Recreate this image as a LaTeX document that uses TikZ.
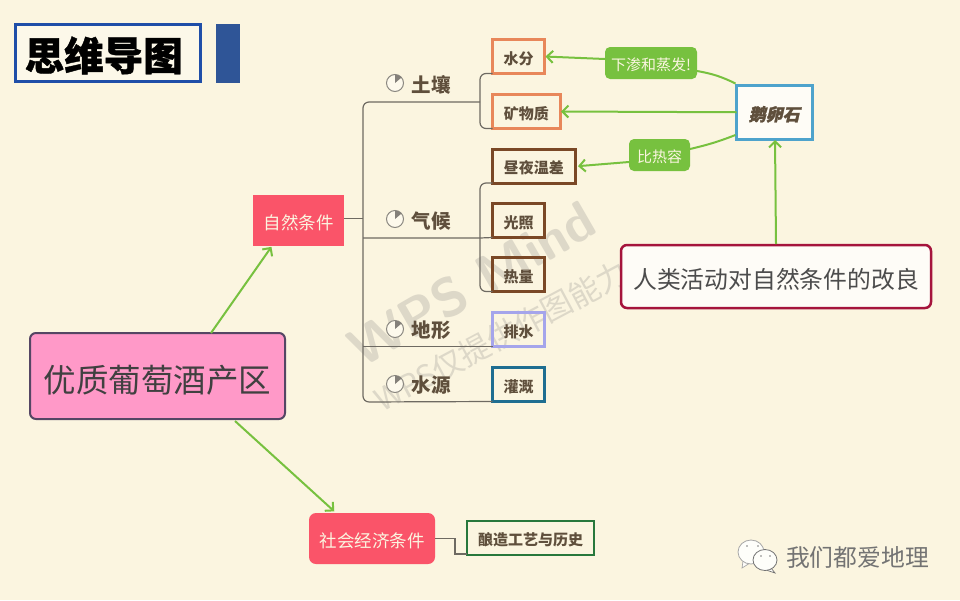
\documentclass[tikz,border=0pt]{standalone}
\usepackage{fontspec}
\usetikzlibrary{arrows.meta,calc,shapes.geometric}
\setmainfont{Noto Sans CJK SC}
\newfontfamily\cjkslant[FakeSlant=0.22,FakeBold=1.5]{Noto Sans CJK SC}
\newfontfamily\cjkheavy[FakeBold=1]{Noto Sans CJK SC}
\definecolor{bgc}{HTML}{FBF5E0}
\definecolor{ink}{HTML}{5F4F3C}
\definecolor{linec}{HTML}{6E6A62}
\definecolor{arrowc}{HTML}{77C13F}
\definecolor{redn}{HTML}{FA5469}
\definecolor{titleb}{HTML}{1F4EA8}
\definecolor{barb}{HTML}{2F5597}
\definecolor{wm}{HTML}{DDD8C8}
\tikzset{
  boxn/.style={rectangle,inner sep=0pt,outer sep=0pt,align=center},
  leaf/.style={boxn,line width=3pt,text=ink,font=\fontsize{15}{17}\selectfont\bfseries},
  cat/.style={boxn,text=ink,font=\fontsize{19.5}{22}\selectfont\bfseries},
  tree/.style={draw=linec,line width=1.2pt,rounded corners=6pt},
  link/.style={draw=arrowc,line width=2pt},
  arr/.style={link,-{Straight Barb[length=6pt,width=12pt,line width=2pt]},shorten >=1pt},
  greenl/.style={boxn,fill=arrowc,rounded corners=5pt,text=bgc,font=\fontsize{15}{18}\selectfont},
  clock/.style={circle,draw=linec!80,line width=1pt,fill=bgc!60!white,minimum size=17pt,inner sep=0pt,outer sep=0pt},
  bubble/.style={ellipse,inner sep=0pt,outer sep=0pt,line width=.8pt,fill=white!85!bgc},
}
% name, x1, y1, x2, y2, style, text
\newcommand{\bx}[7]{%
  \pgfmathsetmacro{\cxv}{(#2+#4)/2}\pgfmathsetmacro{\cyv}{(#3+#5)/2}%
  \pgfmathsetmacro{\wv}{#4-#2}\pgfmathsetmacro{\hv}{#5-#3}%
  \node[boxn,#6,minimum width=\wv pt,minimum height=\hv pt] (#1) at (\cxv,\cyv) {\raisebox{0pt}[1em][0pt]{#7}};}
% name, x, y
\newcommand{\clk}[3]{%
  \node[clock] (#1) at (#2,#3) {};
  \fill[linec!85] (#1.center) -- (#1.north) arc[start angle=90,end angle=40,radius=8.5pt] -- cycle;}
\begin{document}
\begin{tikzpicture}[x=1pt,y=-1pt]
\useasboundingbox (0,0) rectangle (960,600);
\fill[bgc] (0,0) rectangle (960,600);
% watermark
\node[rotate=30,text=wm,font=\fontsize{54}{60}\selectfont\bfseries\sffamily] (wmbig) at (472,284) {WPS Mind};
\node[rotate=28,text=wm,font=\fontsize{31}{34}\selectfont] (wmsmall) at (501,336) {WPS仅提供作图能力};
% title
\bx{title}{15.5}{24.5}{200}{81}{draw=titleb,line width=3pt,fill=bgc!70!white,font=\fontsize{39.5}{42}\selectfont\cjkheavy\bfseries,text=black}{\raisebox{2pt}{思维导图}\kern8pt}
\bx{bar}{216}{24}{240}{83}{fill=barb}{}
% main nodes
\bx{central}{30}{333}{285}{419}{draw={rgb,255:red,85;green,70;blue,100},line width=2pt,fill={rgb,255:red,255;green,153;blue,200},rounded corners=6pt,font=\fontsize{32.5}{36}\selectfont,text=black!75}{优质葡萄酒产区}
\bx{nat}{253}{195}{344}{246}{fill=redn,text=bgc,font=\fontsize{17.5}{20}\selectfont}{自然条件}
\bx{soc}{309}{513}{435}{564}{fill=redn,rounded corners=7pt,text=bgc,font=\fontsize{17.5}{20}\selectfont}{社会经济条件}
\bx{craft}{467}{521}{594}{555}{draw={rgb,255:red,40;green,120;blue,60},line width=2pt,text=ink,font=\fontsize{15}{18}\selectfont\bfseries}{酿造工艺与历史}
% categories
\clk{ck1}{395}{83}\clk{ck2}{395}{219}\clk{ck3}{395}{329}\clk{ck4}{395}{384}
\node[cat] (soil) at (431,84.5) {土壤};
\node[cat] (clim) at (431,221.5) {气候};
\node[cat] (terr) at (431,330.5) {地形};
\node[cat] (wsrc) at (431,385.5) {水源};
% tree coordinates
\coordinate (t1) at (363,102);
\coordinate (t2) at (363,402);
\coordinate (j1) at (480,102);
\coordinate (j2) at (480,238);
\coordinate (tj) at (363,218.5);
% leaves
\bx{water}{492.5}{39.5}{544.5}{73.5}{leaf,draw={rgb,255:red,232;green,135;blue,90}}{水分}
\bx{mine}{492.5}{94.5}{560}{128.5}{leaf,draw={rgb,255:red,232;green,135;blue,90}}{矿物质}
\bx{temp}{492.5}{149.5}{575}{183}{leaf,draw={rgb,255:red,122;green,72;blue,38}}{昼夜温差}
\bx{sun}{492.5}{203.5}{544.5}{237.5}{leaf,draw={rgb,255:red,122;green,72;blue,38}}{光照}
\bx{heat}{492.5}{257.5}{544.5}{291.5}{leaf,draw={rgb,255:red,122;green,72;blue,38}}{热量}
\bx{drain}{492.5}{312.5}{544.5}{346.5}{leaf,draw={rgb,255:red,165;green,165;blue,235}}{排水}
\bx{irr}{492.5}{367.5}{544.5}{401.5}{leaf,draw={rgb,255:red,30;green,110;blue,145}}{灌溉}
% right nodes
\bx{peb}{736.5}{85.5}{812}{139}{draw={rgb,255:red,78;green,163;blue,204},line width=3pt,fill=white!70!bgc,text=ink,font=\fontsize{17}{20}\selectfont\cjkslant\bfseries}{鹅卵石}
\bx{human}{621}{245}{931}{308}{draw={rgb,255:red,165;green,20;blue,60},line width=2.5pt,fill=white!75!bgc,rounded corners=6pt,text=black!70,font=\fontsize{23.8}{28}\selectfont}{人类活动对自然条件的改良}
\bx{l1}{605}{47}{697}{79}{greenl}{下渗和蒸发!}
\bx{l2}{629}{139}{690}{171}{greenl}{比热容}
% tree lines
\draw[tree,sharp corners] (nat.east |- tj) -- (tj);
\draw[tree] (j1) -- (t1) -- (t2) -- (irr.south west);
\draw[tree,sharp corners] (tj |- j2) -- (j2) -- (sun.south west);
\draw[tree,sharp corners] (t1 |- drain.south) -- (drain.south west);
\draw[tree] (water.south west) -| (j1) |- (mine.south west);
\draw[tree] (temp.south west) -| (j2) |- (heat.south west);
\draw[tree,rounded corners=0pt] (soc.east) -- ++(20,0) |- (craft.west |- 0,554);
% arrows
\draw[arr] ($(central.north west)+(181,0)$) -- (nat.south west -| 272,0);
\draw[arr] ($(central.south west)+(205,2)$) -- ($(soc.north west)+(26,-1)$);
\draw[arr] ($(human.north west)+(155,-1)$) -- (peb.south west -| 775,0);
\draw[arr] ($(l1.west)+(0,-4)$) -- (water.east);
\draw[link] ($(peb.north west)+(-1,-2)$) to[bend right=8] ($(l1.east)+(0,8)$);
\draw[arr] (peb.west) -- (mine.east);
\draw[link] ($(peb.south west)+(-1,-4)$) to[bend left=4] ($(l2.east)+(0,-6)$);
\draw[arr] ($(l2.west)+(0,7)$) -- ($(temp.east)+(2,0)$);
% account mark
\fill[white!85!bgc,draw=black!35,line width=.7pt] (743,561) -- (742,568) -- (750,563) -- cycle;
\node[bubble,draw=black!35,minimum width=26pt,minimum height=24pt] (wc1) at (751,552) {};
\fill[white!85!bgc,draw=black!55,line width=.7pt] (771,568) -- (775,573) -- (766,570) -- cycle;
\node[bubble,draw=black!55,minimum width=24pt,minimum height=21pt] (wc2) at (765,560) {};
\foreach \ex/\ey in {747/546,758/546,761/556,770/556} \fill[black!50] (\ex,\ey) circle[radius=.9pt];
\node[boxn,text=black!55,font=\fontsize{23.8}{26}\selectfont] (acct) at (857.5,557) {我们都爱地理};
\end{tikzpicture}
\end{document}
